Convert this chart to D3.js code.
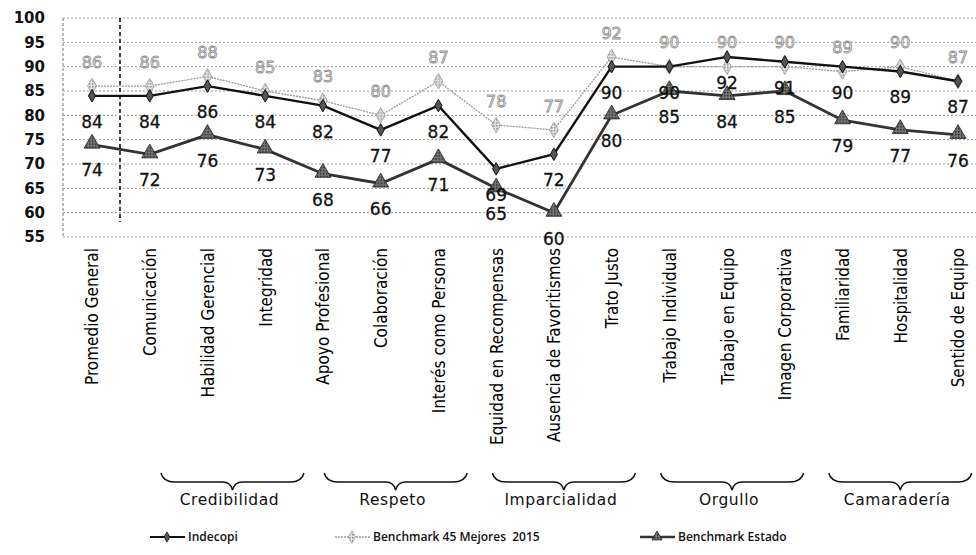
<!DOCTYPE html>
<html>
<head>
<meta charset="utf-8">
<script src="https://cdn.jsdelivr.net/npm/d3@7"></script>
<style>
  body { margin: 0; background: #fff; }
  svg { display: block; }
</style>
</head>
<body>
<div class="chart"></div>
<script>
// datos
const categorias = ['Promedio General', 'Comunicación', 'Habilidad Gerencial', 'Integridad',
    'Apoyo Profesional', 'Colaboración', 'Interés como Persona', 'Equidad en Recompensas',
    'Ausencia de Favoritismos', 'Trato Justo', 'Trabajo Individual', 'Trabajo en Equipo',
    'Imagen Corporativa', 'Familiaridad', 'Hospitalidad', 'Sentido de Equipo'];
const indecopi = [84, 84, 86, 84, 82, 77, 82, 69, 72, 90, 90, 92, 91, 90, 89, 87];
const mejores45 = [86, 86, 88, 85, 83, 80, 87, 78, 77, 92, 90, 90, 90, 89, 90, 87];
const estado = [74, 72, 76, 73, 68, 66, 71, 65, 60, 80, 85, 84, 85, 79, 77, 76];
const yTicks = [55, 60, 65, 70, 75, 80, 85, 90, 95, 100];
const grupos = ['Credibilidad', 'Respeto', 'Imparcialidad', 'Orgullo', 'Camaradería'];
const gruposDesde = ['Comunicación', 'Apoyo Profesional', 'Equidad en Recompensas', 'Trabajo Individual', 'Familiaridad'];
const gruposHasta = ['Integridad', 'Interés como Persona', 'Trato Justo', 'Imagen Corporativa', 'Sentido de Equipo'];
const leyenda = ['Indecopi', 'Benchmark 45 Mejores  2015', 'Benchmark Estado'];

// lienzo
const width = 976, height = 555;
const svg = d3.select('.chart').append('svg')
    .attr('width', width).attr('height', height);

const plotLeft = 63, plotRight = 976, plotTop = 18, plotBottom = 237;

const x = d3.scalePoint().domain(categorias).range([92, 958]);
const y = d3.scaleLinear().domain([55, 100]).range([plotBottom, plotTop]);

// cuadrícula
svg.append('g').selectAll('line').data(yTicks).join('line')
    .attr('x1', plotLeft).attr('x2', plotRight)
    .attr('y1', d => y(d)).attr('y2', d => y(d))
    .attr('stroke', '#999').attr('stroke-width', 1)
    .attr('stroke-dasharray', '2,2');

// eje y (etiquetas)
const yAxis = d3.axisLeft(y).tickValues(yTicks).tickSize(0).tickPadding(0);
const yAxisG = svg.append('g').attr('transform', `translate(45,0)`).call(yAxis);
yAxisG.select('.domain').remove();
yAxisG.selectAll('text')
    .style('font-family', 'DejaVu Sans').style('font-weight', 'bold')
    .style('font-size', '15px').attr('fill', '#111');

// línea izquierda y separador
svg.append('line')
    .attr('x1', plotLeft).attr('x2', plotLeft).attr('y1', plotTop).attr('y2', plotBottom)
    .attr('stroke', '#777').attr('stroke-dasharray', '3,2');
svg.append('line')
    .attr('x1', 120).attr('x2', 120).attr('y1', plotTop).attr('y2', 222)
    .attr('stroke', '#111').attr('stroke-width', 1.6).attr('stroke-dasharray', '4,3');

// etiquetas del eje x (rotadas)
const xAxis = d3.axisBottom(x).tickSize(0);
const xAxisG = svg.append('g').attr('transform', `translate(0,${plotBottom})`).call(xAxis);
xAxisG.select('.domain').remove();
xAxisG.selectAll('text')
    .attr('transform', 'rotate(-90)')
    .attr('x', -11).attr('y', 0).attr('dy', '0.35em')
    .style('text-anchor', 'end')
    .style('font-family', '"DejaVu Sans Condensed", sans-serif')
    .style('font-size', '17px').attr('fill', '#000');

// series
const line = d3.line().x((d, i) => x(categorias[i])).y(d => y(d));

// patrón para los marcadores
const defs = svg.append('defs');
defs.append('pattern').attr('id', 'trama')
    .attr('width', 3).attr('height', 3).attr('patternUnits', 'userSpaceOnUse')
    .call(p => {
        p.append('rect').attr('width', 3).attr('height', 3).attr('fill', '#e4e4e4');
        p.append('rect').attr('width', 1.5).attr('height', 1.5).attr('fill', '#888');
    });
defs.append('pattern').attr('id', 'tramaOscura')
    .attr('width', 3).attr('height', 3).attr('patternUnits', 'userSpaceOnUse')
    .call(p => {
        p.append('rect').attr('width', 3).attr('height', 3).attr('fill', '#777');
        p.append('rect').attr('width', 1.5).attr('height', 1.5).attr('fill', '#222');
    });

// Benchmark 45 Mejores
svg.append('path').datum(mejores45)
    .attr('d', line).attr('fill', 'none')
    .attr('stroke', '#9a9a9a').attr('stroke-width', 1.3).attr('stroke-dasharray', '2,1');
svg.append('g').selectAll('path').data(mejores45).join('path')
    .attr('transform', (d, i) => `translate(${x(categorias[i])},${y(d)})`)
    .attr('d', d3.symbol(d3.symbolDiamond, 70))
    .attr('fill', 'url(#trama)').attr('stroke', '#999').attr('stroke-width', 0.8);

// Indecopi
svg.append('path').datum(indecopi)
    .attr('d', line).attr('fill', 'none')
    .attr('stroke', '#111').attr('stroke-width', 2.4);
svg.append('g').selectAll('path').data(indecopi).join('path')
    .attr('transform', (d, i) => `translate(${x(categorias[i])},${y(d)})`)
    .attr('d', d3.symbol(d3.symbolDiamond, 45))
    .attr('fill', '#555').attr('stroke', '#111').attr('stroke-width', 1);

// Benchmark Estado
svg.append('path').datum(estado)
    .attr('d', line).attr('fill', 'none')
    .attr('stroke', '#333').attr('stroke-width', 2.8);
svg.append('g').selectAll('path').data(estado).join('path')
    .attr('transform', (d, i) => `translate(${x(categorias[i])},${y(d) - 1})`)
    .attr('d', d3.symbol(d3.symbolTriangle, 110))
    .attr('fill', 'url(#tramaOscura)').attr('stroke', '#222').attr('stroke-width', 0.8);

// etiquetas de datos
const etiquetas = svg.append('g').style('font-family', 'DejaVu Sans').attr('text-anchor', 'middle');
etiquetas.selectAll('.lbl-gris').data(mejores45).join('text')
    .attr('class', 'lbl-gris')
    .attr('x', (d, i) => x(categorias[i])).attr('y', d => y(d) - 24).attr('dy', '0.35em')
    .style('font-size', '16px')
    .attr('fill', '#f4f4f4').attr('stroke', '#8c8c8c').attr('stroke-width', 0.8)
    .text(d => d);
etiquetas.selectAll('.lbl-ind').data(indecopi).join('text')
    .attr('class', 'lbl-ind')
    .attr('x', (d, i) => x(categorias[i])).attr('y', d => y(d) + 26).attr('dy', '0.35em')
    .style('font-size', '17px').attr('fill', '#111')
    .attr('stroke', '#111').attr('stroke-width', 0.3)
    .text(d => d);
etiquetas.selectAll('.lbl-est').data(estado).join('text')
    .attr('class', 'lbl-est')
    .attr('x', (d, i) => x(categorias[i])).attr('y', d => y(d) + 26).attr('dy', '0.35em')
    .style('font-size', '17px').attr('fill', '#111')
    .attr('stroke', '#111').attr('stroke-width', 0.3)
    .text(d => d);

// llaves de grupos
const ajusteLlave = [25, 15, 10, 5, 0];
const anchoLlave = 143, yLlave = 473;
function llave(c) {
    const x1 = c - anchoLlave / 2, x2 = c + anchoLlave / 2, yb = yLlave + 9, yt = yLlave + 17;
    return `M${x1},${yLlave} Q${x1 + 2},${yb} ${x1 + 14},${yb} L${c - 10},${yb} Q${c - 2},${yb} ${c},${yt}` +
        ` Q${c + 2},${yb} ${c + 10},${yb} L${x2 - 14},${yb} Q${x2 - 2},${yb} ${x2},${yLlave}`;
}
const centros = grupos.map((g, i) => (x(gruposDesde[i]) + x(gruposHasta[i])) / 2 + ajusteLlave[i]);
svg.append('g').selectAll('path').data(centros).join('path')
    .attr('d', d => llave(d)).attr('fill', 'none')
    .attr('stroke', '#111').attr('stroke-width', 1.5);
svg.append('g').selectAll('text').data(grupos).join('text')
    .attr('x', (d, i) => centros[i] - 3).attr('y', 505)
    .attr('text-anchor', 'middle')
    .style('font-family', 'DejaVu Sans').style('font-size', '15.5px')
    .style('letter-spacing', '0.6px').attr('fill', '#111')
    .text(d => d);

// leyenda
const leyendaX = [150, 335, 640];
const ly = 537;
const leg = svg.append('g');
leg.selectAll('line').data(leyenda).join('line')
    .attr('x1', (d, i) => leyendaX[i]).attr('x2', (d, i) => leyendaX[i] + 35)
    .attr('y1', ly).attr('y2', ly)
    .attr('stroke', (d, i) => ['#111', '#9a9a9a', '#333'][i])
    .attr('stroke-width', (d, i) => [2, 1.3, 2.5][i])
    .attr('stroke-dasharray', (d, i) => i === 1 ? '2,1' : null);
leg.selectAll('path').data(leyenda).join('path')
    .attr('transform', (d, i) => `translate(${leyendaX[i] + 17},${ly})`)
    .attr('d', (d, i) => d3.symbol([d3.symbolDiamond, d3.symbolDiamond, d3.symbolTriangle][i], [30, 45, 45][i])())
    .attr('fill', (d, i) => ['#555', 'url(#trama)', 'url(#tramaOscura)'][i])
    .attr('stroke', (d, i) => ['#111', '#999', '#222'][i]).attr('stroke-width', 0.8);
leg.selectAll('text').data(leyenda).join('text')
    .attr('x', (d, i) => leyendaX[i] + 38).attr('y', ly).attr('dy', '0.35em')
    .style('font-family', '"Open Sans", sans-serif').style('font-weight', 600)
    .style('font-size', '12px').attr('fill', '#111')
    .style('white-space', 'pre')
    .text(d => d);
</script>
</body>
</html>
